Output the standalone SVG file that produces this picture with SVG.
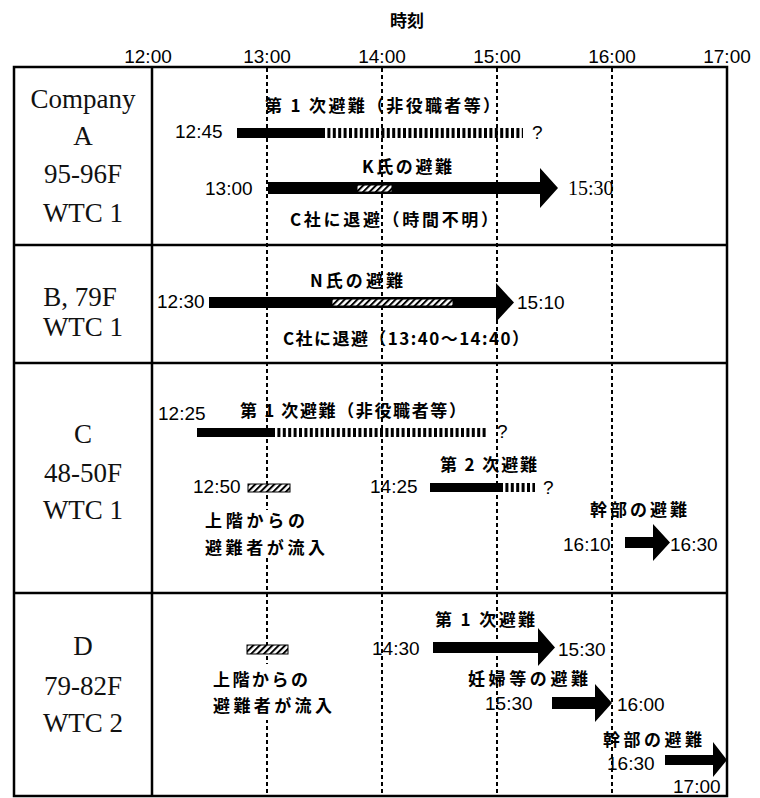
<svg xmlns="http://www.w3.org/2000/svg" width="760" height="798" viewBox="0 0 760 798">
<style>
.t{font-family:"Liberation Sans",Arial,sans-serif;font-size:19px;fill:#000}
.j{font-family:"Noto Sans CJK JP","Noto Sans CJK SC",sans-serif;font-size:17px;font-weight:700;fill:#000}
.s{font-family:"Liberation Serif","Times New Roman",serif;font-size:27px;fill:#111;text-anchor:middle}
.h{text-anchor:middle}
.grid{stroke:#000;fill:none;stroke-width:2.5}
.dot{stroke:#000;stroke-width:2;stroke-dasharray:4 3;fill:none}
.tick{stroke:#000;stroke-dasharray:3 2.4;fill:none}
.hat{fill:url(#hatch);stroke:#000;stroke-width:1}
.bg{fill:#fff}
</style>
<defs>
<pattern id="hatch" patternUnits="userSpaceOnUse" width="4.5" height="4.5" patternTransform="rotate(45)">
<rect width="4.5" height="4.5" fill="#fff"/>
<line x1="1" y1="0" x2="1" y2="4.5" stroke="#000" stroke-width="2"/>
</pattern>
</defs>
<rect width="760" height="798" fill="#fff"/>
<g id="header">
<text class="j h" x="407" y="27" font-size="19">時刻</text>
<text class="t h" x="148" y="63">12:00</text>
<text class="t h" x="267" y="63">13:00</text>
<text class="t h" x="382" y="63">14:00</text>
<text class="t h" x="497" y="63">15:00</text>
<text class="t h" x="612" y="63">16:00</text>
<text class="t h" x="727" y="63">17:00</text>
</g>
<g id="connectors">
<line class="dot" x1="267" y1="68" x2="267" y2="795"/>
<line class="dot" x1="382" y1="68" x2="382" y2="795"/>
<line class="dot" x1="497" y1="68" x2="497" y2="795"/>
<line class="dot" x1="612" y1="68" x2="612" y2="795"/>
<rect class="grid" x="14" y="67" width="713" height="729"/>
<line class="grid" x1="152" y1="67" x2="152" y2="796"/>
<line class="grid" x1="14" y1="245" x2="727" y2="245"/>
<line class="grid" x1="14" y1="363" x2="727" y2="363"/>
<line class="grid" x1="14" y1="593" x2="727" y2="593"/>
</g>
<g id="labelA">
<text class="s" x="83" y="108">Company</text>
<text class="s" x="83" y="145">A</text>
<text class="s" x="83" y="183">95-96F</text>
<text class="s" x="83" y="222">WTC 1</text>
</g>
<g id="labelB">
<text class="s" x="80" y="306">B, 79F</text>
<text class="s" x="83" y="336">WTC 1</text>
</g>
<g id="labelC">
<text class="s" x="83" y="443">C</text>
<text class="s" x="83" y="482">48-50F</text>
<text class="s" x="83" y="519">WTC 1</text>
</g>
<g id="labelD">
<text class="s" x="83" y="655">D</text>
<text class="s" x="83" y="695">79-82F</text>
<text class="s" x="83" y="732">WTC 2</text>
</g>
<g id="A-first">
<text class="j" x="265" y="112" textLength="235" lengthAdjust="spacing">第 1 次避難（非役職者等）</text>
<text class="t" x="175" y="138">12:45</text>
<rect x="237" y="128" width="85" height="10"/>
<line class="tick" x1="322" y1="133" x2="523" y2="133" stroke-width="10"/>
<text class="t" x="532" y="139">?</text>
</g>
<g id="A-K">
<text class="j" x="362" y="173" textLength="90" lengthAdjust="spacing">K氏の避難</text>
<text class="t" x="205" y="195">13:00</text>
<polygon points="268,182 540,182 540,168 558,188 540,208 540,194 268,194"/>
<rect class="hat" x="357" y="185" width="35" height="7"/>
<text x="568" y="195" font-family="Liberation Serif,serif" font-size="20">15:30</text>
<text class="j" x="290" y="226" textLength="208" lengthAdjust="spacing">C社に退避（時間不明）</text>
</g>
<g id="B-N">
<text class="j" x="310" y="287" textLength="93" lengthAdjust="spacing">N氏の避難</text>
<text class="t" x="157" y="308">12:30</text>
<polygon points="209,297 496,297 496,283 514,302.5 496,322 496,308 209,308"/>
<rect class="hat" x="332" y="299" width="121" height="7"/>
<text class="t" x="517" y="309">15:10</text>
<text class="j" x="283" y="345" textLength="246" lengthAdjust="spacing">C社に退避（13:40〜14:40）</text>
</g>
<g id="C-first">
<text class="t" x="158" y="420">12:25</text>
<text class="j" x="240" y="417" textLength="226" lengthAdjust="spacing">第 1 次避難（非役職者等）</text>
<rect x="197" y="428" width="75" height="9"/>
<line class="tick" x1="272" y1="432.5" x2="488" y2="432.5" stroke-width="9"/>
<text class="t" x="497" y="438">?</text>
</g>
<g id="C-second">
<text class="j" x="440" y="471" textLength="97" lengthAdjust="spacing">第 2 次避難</text>
<text class="t" x="370" y="493">14:25</text>
<rect x="430" y="483" width="70" height="9"/>
<line class="tick" x1="500" y1="487.5" x2="535" y2="487.5" stroke-width="9"/>
<text class="t" x="543" y="494">?</text>
</g>
<g id="C-inflow">
<text class="t" x="193" y="493">12:50</text>
<rect class="hat" x="248" y="484" width="42" height="8"/>
<rect class="bg" x="203" y="510" width="126" height="48"/>
<text class="j" x="205" y="527" textLength="100" lengthAdjust="spacing">上階からの</text>
<text class="j" x="205" y="554" textLength="120" lengthAdjust="spacing">避難者が流入</text>
</g>
<g id="C-exec">
<text class="j" x="590" y="516" textLength="97" lengthAdjust="spacing">幹部の避難</text>
<text class="t" x="563" y="551">16:10</text>
<polygon points="625,537 653,537 653,524 670,542.5 653,561 653,548 625,548"/>
<text class="t" x="670" y="551">16:30</text>
</g>
<g id="D-inflow">
<rect class="hat" x="247" y="645" width="41" height="9"/>
<rect class="bg" x="210" y="664" width="126" height="56"/>
<text class="j" x="213" y="686" textLength="95" lengthAdjust="spacing">上階からの</text>
<text class="j" x="213" y="712" textLength="119" lengthAdjust="spacing">避難者が流入</text>
</g>
<g id="D-first">
<text class="j" x="435" y="626" textLength="100" lengthAdjust="spacing">第 1 次避難</text>
<text class="t" x="372" y="655">14:30</text>
<polygon points="433,642 538,642 538,628 555,647.5 538,666 538,653 433,653"/>
<text class="t" x="558" y="656">15:30</text>
</g>
<g id="D-pregnant">
<text class="j" x="468" y="685" textLength="120" lengthAdjust="spacing">妊婦等の避難</text>
<text class="t" x="485" y="710">15:30</text>
<polygon points="552,697 595,697 595,684 612,703 595,722 595,709 552,709"/>
<text class="t" x="617" y="711">16:00</text>
</g>
<g id="D-exec">
<text class="j" x="603" y="746" textLength="99" lengthAdjust="spacing">幹部の避難</text>
<text class="t" x="607" y="770">16:30</text>
<polygon points="665,755 713,755 713,742 727,760 713,777 713,765 665,765"/>
<text class="t" x="673" y="793">17:00</text>
</g>
</svg>
